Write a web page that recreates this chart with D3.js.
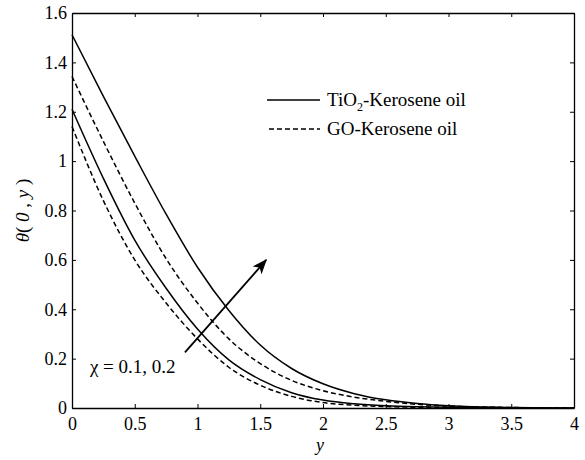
<!DOCTYPE html>
<html>
<head>
<meta charset="utf-8">
<script src="https://cdn.jsdelivr.net/npm/d3@7"></script>
<style>
  body { margin: 0; background: #fff; }
</style>
</head>
<body>
<div id="chart"></div>
<script>
// data
var yGrid = [0, 0.25, 0.5, 0.75, 1, 1.25, 1.5, 1.75, 2, 2.25, 2.5, 2.75, 3, 3.5, 4];
var tio2High = [1.512, 1.262, 1.02, 0.785, 0.57, 0.395, 0.255, 0.16, 0.098, 0.058, 0.033, 0.018, 0.009, 0.002, 0];
var goHigh   = [1.343, 1.08, 0.83, 0.605, 0.425, 0.28, 0.18, 0.112, 0.07, 0.044, 0.027, 0.015, 0.008, 0.002, 0];
var tio2Low  = [1.21, 0.93, 0.68, 0.485, 0.32, 0.195, 0.115, 0.062, 0.032, 0.017, 0.009, 0.005, 0.003, 0.001, 0];
var goLow    = [1.14, 0.84, 0.6, 0.425, 0.28, 0.165, 0.092, 0.047, 0.022, 0.011, 0.006, 0.003, 0.002, 0.001, 0];
var xTicks = [0, 0.5, 1, 1.5, 2, 2.5, 3, 3.5, 4];
var yTicks = [0, 0.2, 0.4, 0.6, 0.8, 1, 1.2, 1.4, 1.6];
var legendNames = ["TiO2-Kerosene oil", "GO-Kerosene oil"];
var arrowFrom = [0.9, 0.225], arrowTo = [1.548, 0.6];
var chiLabel = "\u03c7 = 0.1, 0.2";

var W = 585, H = 460;
var m = {left: 72, right: 11, top: 13, bottom: 52};
var serif = "'Liberation Serif', 'Times New Roman', serif";

var svg = d3.select("#chart").append("svg")
  .attr("width", W).attr("height", H);

var x = d3.scaleLinear().domain([0, 4]).range([m.left, W - m.right]);
var y = d3.scaleLinear().domain([0, 1.6]).range([H - m.bottom, m.top]);

var fmt = d3.format("~g");

// axes with inward ticks, box on all sides
svg.append("g").attr("transform", "translate(0," + (H - m.bottom) + ")")
  .call(d3.axisBottom(x).tickValues(xTicks).tickFormat(fmt).tickSizeInner(-4).tickSizeOuter(0).tickPadding(9));
svg.append("g").attr("transform", "translate(" + m.left + ",0)")
  .call(d3.axisLeft(y).tickValues(yTicks).tickFormat(fmt).tickSizeInner(-4).tickSizeOuter(0).tickPadding(5));
svg.append("g").attr("transform", "translate(0," + m.top + ")")
  .call(d3.axisTop(x).tickValues(xTicks).tickFormat("").tickSizeInner(-4).tickSizeOuter(0));
svg.append("g").attr("transform", "translate(" + (W - m.right) + ",0)")
  .call(d3.axisRight(y).tickValues(yTicks).tickFormat("").tickSizeInner(-4).tickSizeOuter(0));

svg.selectAll(".tick text").style("font-size", "18px");
svg.selectAll(".domain").attr("stroke", "#000").attr("stroke-width", 1.3);
svg.selectAll(".tick line").attr("stroke", "#000");

// curves
var line = d3.line()
  .x(function(d){ return x(d[0]); })
  .y(function(d){ return y(d[1]); })
  .curve(d3.curveMonotoneX);

var series = [
  {vals: tio2High, dash: null},
  {vals: goHigh, dash: "5,3"},
  {vals: tio2Low, dash: null},
  {vals: goLow, dash: "5,3"}
];

svg.selectAll("path.curve")
  .data(series)
  .enter()
  .append("path")
  .attr("class", "curve")
  .attr("fill", "none")
  .attr("stroke", "#000")
  .attr("stroke-width", 1.5)
  .attr("stroke-dasharray", function(d){ return d.dash; })
  .attr("d", function(d){
    return line(yGrid.map(function(g, i){ return [g, d.vals[i]]; }));
  });

// legend
var lg = svg.append("g");
lg.append("line").attr("x1", 267).attr("x2", 320).attr("y1", 100).attr("y2", 100)
  .attr("stroke", "#000").attr("stroke-width", 1.5);
lg.append("line").attr("x1", 269).attr("x2", 320).attr("y1", 129).attr("y2", 129)
  .attr("stroke", "#000").attr("stroke-width", 1.5).attr("stroke-dasharray", "5,3");
var t1 = lg.append("text").attr("x", 327).attr("y", 106).style("font-size", "19px");
t1.append("tspan").text("TiO");
t1.append("tspan").style("font-size", "12px").attr("dy", 5).text("2");
t1.append("tspan").attr("dy", -5).text(legendNames[0].slice(4));
lg.append("text").attr("x", 327).attr("y", 135).style("font-size", "19px").text(legendNames[1]);

// arrow
svg.append("defs").append("marker")
  .attr("id", "head").attr("viewBox", "0 0 15 12")
  .attr("refX", 14).attr("refY", 6)
  .attr("markerWidth", 15).attr("markerHeight", 12)
  .attr("markerUnits", "userSpaceOnUse")
  .attr("orient", "auto")
  .append("path").attr("d", "M0,0 L15,6 L0,12 L4,6 Z").attr("fill", "#000");

svg.append("line")
  .attr("x1", x(arrowFrom[0])).attr("y1", y(arrowFrom[1]))
  .attr("x2", x(arrowTo[0])).attr("y2", y(arrowTo[1]))
  .attr("stroke", "#000").attr("stroke-width", 1.8)
  .attr("marker-end", "url(#head)");

svg.append("text").attr("x", x(0.143)).attr("y", y(0.143))
  .style("font-size", "19px").text(chiLabel);

// axis titles
svg.append("text").attr("x", 320).attr("y", 451)
  .attr("text-anchor", "middle").style("font-size", "18px").style("font-style", "italic").text("y");

var yl = svg.append("text")
  .attr("transform", "translate(29," + ((m.top + H - m.bottom) / 2) + ") rotate(-90)")
  .attr("text-anchor", "middle").style("font-size", "19px");
yl.append("tspan").style("font-style", "italic").text("\u03b8");
yl.append("tspan").text("( ");
yl.append("tspan").style("font-style", "italic").text("0");
yl.append("tspan").text(" , ");
yl.append("tspan").style("font-style", "italic").text("y");
yl.append("tspan").text(" )");

// every text in Times-like serif
svg.selectAll("text").style("font-family", serif).style("fill", "#000");
</script>
</body>
</html>
